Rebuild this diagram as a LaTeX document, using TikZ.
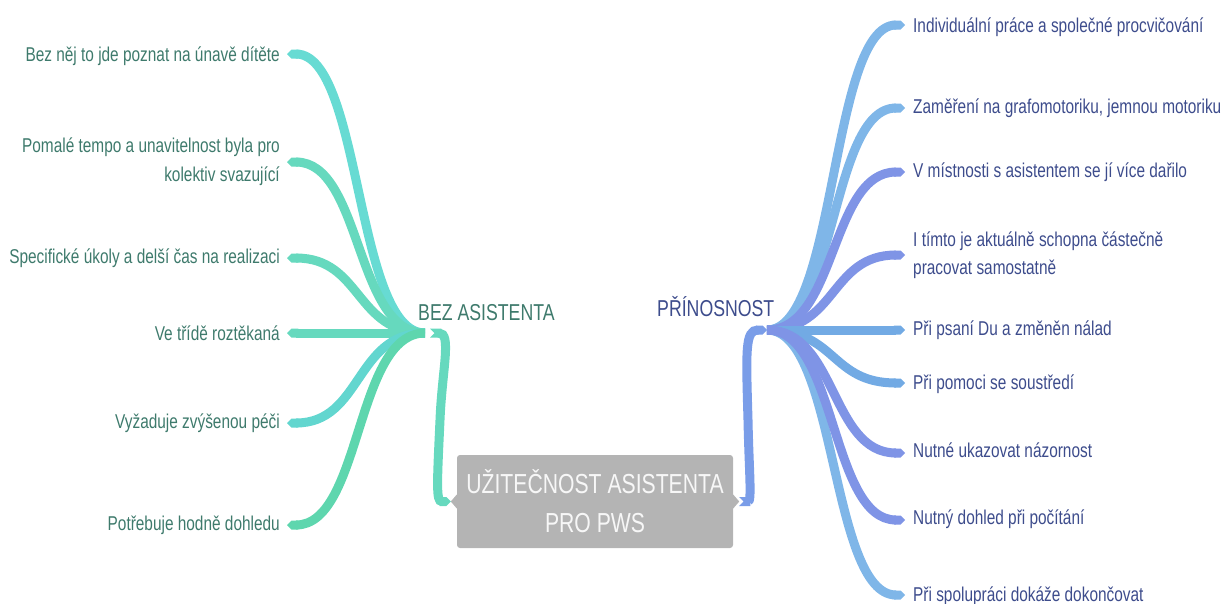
\documentclass[tikz,border=0pt]{standalone}
\usepackage{fontspec}
\setmainfont{Liberation Sans}[FakeStretch=0.77]
\usetikzlibrary{arrows.meta,calc}

\definecolor{txtL}{HTML}{3E7A6C}
\definecolor{txtR}{HTML}{3D4C8C}
\definecolor{tealA}{HTML}{67DBD3}
\definecolor{tealB}{HTML}{66D9BE}
\definecolor{tealC}{HTML}{5ED6AE}
\definecolor{tealD}{HTML}{62D6CF}
\definecolor{blueA}{HTML}{7FB6E8}
\definecolor{blueB}{HTML}{7F94E6}
\definecolor{blueC}{HTML}{72AAE4}
\definecolor{blueD}{HTML}{7A9DE8}
\definecolor{boxgray}{HTML}{B4B4B4}

\tikzset{
  branch/.style={line width=9pt, -{Triangle Cap[]}},
  trunk/.style={line width=9pt, {Triangle Cap[reversed]}-{Triangle Cap[]}},
  lblL/.style={font=\fontsize{20}{29}\selectfont, text=txtL, inner sep=0pt, align=right},
  lblR/.style={font=\fontsize{20}{28}\selectfont, text=txtR, inner sep=0pt, align=left},
  hubtxt/.style={font=\fontsize{23}{26}\selectfont, inner sep=0pt},
  corebox/.style={fill=boxgray, rounded corners=3pt, minimum width=276pt, minimum height=93pt,
    text=white!94!gray, font=\fontsize{27.5}{39}\selectfont, align=center, inner sep=0pt}
}

\begin{document}
\begin{tikzpicture}[x=1pt,y=-1pt]
\useasboundingbox (0,0) rectangle (1221,603);
\clip (0,0) rectangle (1221,603);

% hubs
\coordinate (hubL) at (425,333);
\coordinate (hubR) at (767,330);

% central topic
\node[corebox] (core) at (595,501.5) {UŽITEČNOST ASISTENTA\\PRO PWS};
\fill[boxgray] ($(core.west)+(0,-7)$) -- ($(core.west)+(-6,0)$) -- ($(core.west)+(0,7)$) -- cycle;
\fill[boxgray] ($(core.east)+(0,-7)$) -- ($(core.east)+(6,0)$) -- ($(core.east)+(0,7)$) -- cycle;

% hub labels
\node[hubtxt, text=txtL, anchor=base west] (bez) at (418,320) {BEZ ASISTENTA};
\node[hubtxt, text=txtR, anchor=base west] (pri) at (657,316) {PŘÍNOSNOST};

% left branch ends
\coordinate (eL1) at (287,54);
\coordinate (eL2) at (287,162);
\coordinate (eL3) at (287,258);
\coordinate (eL4) at (287,333);
\coordinate (eL5) at (287,423);
\coordinate (eL6) at (287,525);

% right branch ends
\coordinate (eR1) at (905,25);
\coordinate (eR2) at (905,108);
\coordinate (eR3) at (905,172);
\coordinate (eR4) at (905,255);
\coordinate (eR5) at (905,330);
\coordinate (eR6) at (905,383);
\coordinate (eR7) at (905,453);
\coordinate (eR8) at (905,520);
\coordinate (eR9) at (905,595);

% trunks between the central topic and the hubs
\coordinate (tL) at (430,333);
\coordinate (cL) at ($(core.west)+(-6,0)$);
\draw[trunk, tealB] (tL) .. controls (452,333) and (442,370) .. (440,420)
  .. controls (437,485) and (436,501.5) .. (cL);
\coordinate (cR) at ($(core.east)+(6,0)$);
\draw[trunk, blueD] (cR) .. controls (752,501.5) and (749,470) .. (748,420)
  .. controls (746,350) and (745,330) .. (hubR);

% left branches
\draw[branch, tealA] (hubL) .. controls ($(hubL)+(-70,0)$) and ($(eL1)+(75,0)$) .. (eL1);
\draw[branch, tealB] (hubL) .. controls ($(hubL)+(-70,0)$) and ($(eL2)+(75,0)$) .. (eL2);
\draw[branch, tealB] (hubL) .. controls ($(hubL)+(-70,0)$) and ($(eL3)+(75,0)$) .. (eL3);
\draw[branch, tealB] (hubL) -- (eL4);
\draw[branch, tealD] (hubL) .. controls ($(hubL)+(-70,0)$) and ($(eL5)+(75,0)$) .. (eL5);
\draw[branch, tealC] (hubL) .. controls ($(hubL)+(-70,0)$) and ($(eL6)+(75,0)$) .. (eL6);

% right branches
\draw[branch, blueA] (hubR) .. controls ($(hubR)+(70,0)$) and ($(eR1)+(-75,0)$) .. (eR1);
\draw[branch, blueA] (hubR) .. controls ($(hubR)+(70,0)$) and ($(eR2)+(-75,0)$) .. (eR2);
\draw[branch, blueB] (hubR) .. controls ($(hubR)+(70,0)$) and ($(eR3)+(-75,0)$) .. (eR3);
\draw[branch, blueB] (hubR) .. controls ($(hubR)+(70,0)$) and ($(eR4)+(-75,0)$) .. (eR4);
\draw[branch, blueC] (hubR) -- (eR5);
\draw[branch, blueC] (hubR) .. controls ($(hubR)+(70,0)$) and ($(eR6)+(-75,0)$) .. (eR6);
\draw[branch, blueA] (hubR) .. controls ($(hubR)+(70,0)$) and ($(eR9)+(-75,0)$) .. (eR9);
\draw[branch, blueB] (hubR) .. controls ($(hubR)+(70,0)$) and ($(eR7)+(-75,0)$) .. (eR7);
\draw[branch, blueB] (hubR) .. controls ($(hubR)+(70,0)$) and ($(eR8)+(-75,0)$) .. (eR8);

% left labels
\node[lblL, anchor=base east] (tL1) at (280,61) {Bez něj to jde poznat na únavě dítěte};
\node[lblL, anchor=east] (tL2) at (280,162) {Pomalé tempo a unavitelnost byla pro\\kolektiv svazující};
\node[lblL, anchor=base east] (tL3) at (280,263) {Specifické úkoly a delší čas na realizaci};
\node[lblL, anchor=base east] (tL4) at (280,340) {Ve třídě roztěkaná};
\node[lblL, anchor=base east] (tL5) at (280,428) {Vyžaduje zvýšenou péči};
\node[lblL, anchor=base east] (tL6) at (280,530) {Potřebuje hodně dohledu};

% right labels
\node[lblR, anchor=base west] (tR1) at (913,32) {Individuální práce a společné procvičování};
\node[lblR, anchor=base west] (tR2) at (913,113) {Zaměření na grafomotoriku, jemnou motoriku};
\node[lblR, anchor=base west] (tR3) at (913,177) {V místnosti s asistentem se jí více dařilo};
\node[lblR, anchor=west] (tR4) at (913,255) {I tímto je aktuálně schopna částečně\\pracovat samostatně};
\node[lblR, anchor=base west] (tR5) at (913,335) {Při psaní Du a změněn nálad};
\node[lblR, anchor=base west] (tR6) at (913,389) {Při pomoci se soustředí};
\node[lblR, anchor=base west] (tR7) at (913,457) {Nutné ukazovat názornost};
\node[lblR, anchor=base west] (tR8) at (913,524) {Nutný dohled při počítání};
\node[lblR, anchor=base west] (tR9) at (913,601) {Při spolupráci dokáže dokončovat};
\end{tikzpicture}
\end{document}
